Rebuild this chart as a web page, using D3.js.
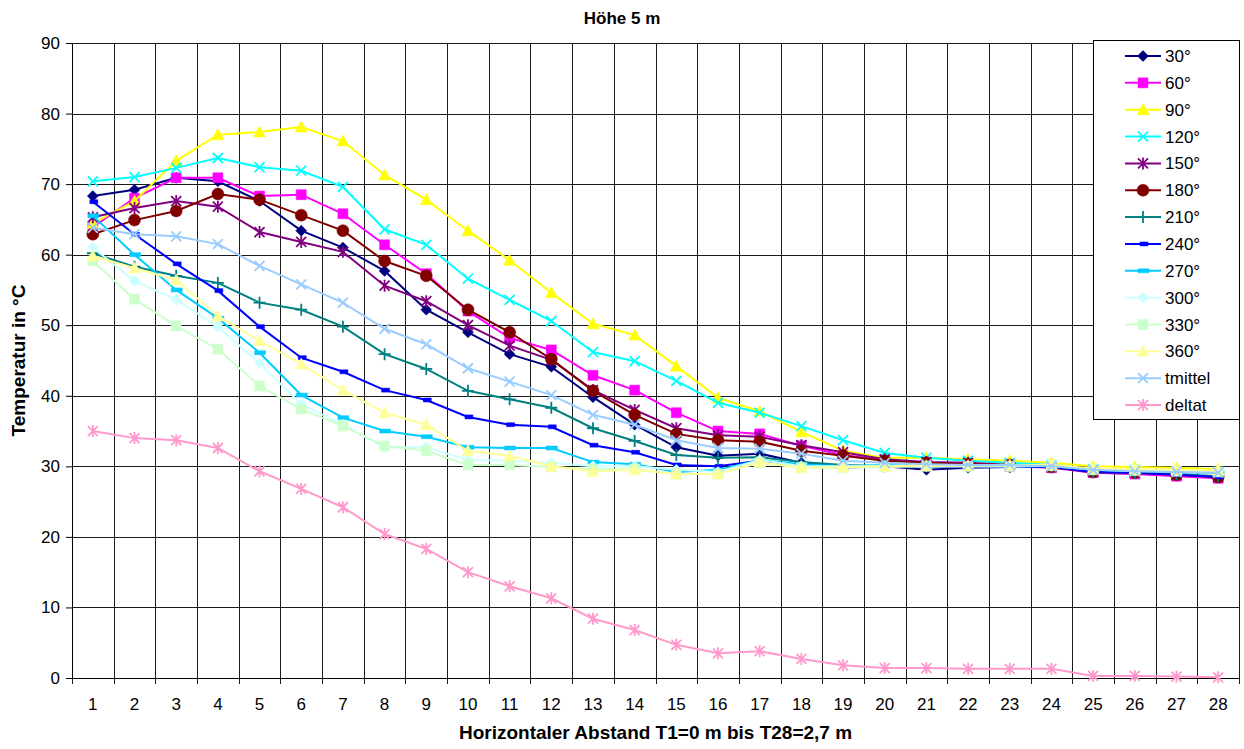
<!DOCTYPE html>
<html>
<head>
<meta charset="utf-8">
<script src="https://cdn.jsdelivr.net/npm/d3@7"></script>
<style>
  body { margin: 0; background: #fff; }
  text { font-family: "Liberation Sans", Arial, sans-serif; }
</style>
</head>
<body>
<div class="chart"></div>
<script>
var positions = d3.range(1, 29);
var yTicks = [0, 10, 20, 30, 40, 50, 60, 70, 80, 90];
var seriesNames = ['30°', '60°', '90°', '120°', '150°', '180°', '210°', '240°', '270°', '300°', '330°', '360°', 'tmittel', 'deltat'];

var s30 = [68.3, 69.2, 70.9, 70.4, 67.6, 63.4, 61.0, 57.7, 52.2, 49.0, 45.9, 44.1, 39.8, 35.9, 32.7, 31.5, 31.8, 30.5, 30.0, 30.0, 29.5, 29.8, 29.9, 30.0, 29.1, 29.0, 28.8, 28.5];
var s60 = [63.9, 68.0, 70.9, 70.9, 68.3, 68.5, 65.8, 61.4, 57.3, 52.0, 48.2, 46.5, 42.9, 40.8, 37.6, 35.0, 34.6, 32.9, 31.6, 30.9, 30.5, 30.2, 30.0, 29.8, 29.1, 28.9, 28.6, 28.3];
var s90 = [64.4, 67.6, 73.3, 77.0, 77.4, 78.1, 76.1, 71.3, 67.8, 63.4, 59.2, 54.6, 50.2, 48.6, 44.2, 39.7, 37.8, 34.9, 32.2, 31.2, 31.2, 31.0, 30.8, 30.5, 30.0, 29.9, 29.8, 29.6];
var s120 = [70.4, 71.0, 72.3, 73.7, 72.4, 71.9, 69.6, 63.6, 61.4, 56.6, 53.6, 50.6, 46.2, 44.9, 42.1, 39.0, 37.6, 35.7, 33.7, 31.9, 31.2, 30.8, 30.5, 30.2, 29.6, 29.5, 29.3, 29.2];
var s150 = [65.3, 66.6, 67.6, 66.8, 63.2, 61.8, 60.4, 55.6, 53.4, 50.0, 47.1, 45.1, 40.8, 38.0, 35.4, 34.4, 34.2, 33.0, 32.0, 31.0, 30.6, 30.5, 30.2, 29.9, 29.2, 29.1, 28.8, 28.5];
var s180 = [62.9, 64.9, 66.2, 68.6, 67.8, 65.6, 63.4, 59.1, 57.0, 52.2, 49.0, 45.2, 40.7, 37.3, 34.6, 33.7, 33.5, 32.2, 31.5, 30.8, 30.5, 30.3, 30.2, 29.9, 29.2, 29.1, 28.8, 28.5];
var s210 = [60.2, 58.3, 57.0, 56.0, 53.2, 52.2, 49.8, 45.9, 43.8, 40.7, 39.5, 38.3, 35.4, 33.6, 31.6, 31.2, 31.3, 30.6, 30.2, 30.0, 30.0, 29.9, 29.9, 29.9, 29.2, 29.1, 28.9, 28.6];
var s240 = [67.5, 62.9, 58.7, 54.9, 49.8, 45.4, 43.4, 40.8, 39.4, 37.0, 35.9, 35.6, 33.0, 32.0, 30.2, 30.0, 30.8, 30.2, 29.8, 30.0, 30.0, 29.9, 29.9, 29.9, 29.2, 29.1, 28.8, 28.5];
var s270 = [65.5, 60.0, 55.0, 51.0, 46.1, 40.1, 36.9, 35.0, 34.2, 32.7, 32.6, 32.6, 30.6, 30.3, 29.2, 29.5, 30.9, 30.3, 30.0, 30.2, 30.0, 30.0, 30.0, 30.0, 29.5, 29.3, 29.2, 29.1];
var s300 = [61.0, 56.3, 53.6, 49.8, 44.6, 38.8, 35.9, 32.7, 32.7, 30.9, 30.8, 30.5, 30.0, 30.0, 29.5, 29.2, 30.9, 30.0, 30.0, 30.0, 30.0, 30.0, 30.0, 30.1, 29.6, 29.5, 29.4, 29.3];
var s330 = [59.1, 53.7, 49.9, 46.6, 41.4, 38.1, 35.7, 32.9, 32.2, 30.2, 30.2, 29.9, 29.6, 29.6, 28.9, 28.9, 30.5, 29.8, 29.8, 29.9, 30.0, 30.0, 30.0, 30.1, 29.5, 29.4, 29.3, 29.2];
var s360 = [59.8, 58.1, 56.4, 51.3, 47.8, 44.5, 40.8, 37.6, 35.9, 32.2, 31.5, 30.0, 29.3, 29.5, 28.9, 28.9, 30.6, 29.8, 29.9, 30.0, 30.1, 30.1, 30.2, 30.2, 29.7, 29.6, 29.5, 29.4];
var sMittel = [63.8, 62.9, 62.6, 61.5, 58.4, 55.8, 53.2, 49.5, 47.3, 43.9, 42.0, 40.1, 37.3, 35.9, 33.7, 32.6, 32.5, 31.8, 30.8, 30.5, 30.3, 30.2, 30.2, 30.0, 29.5, 29.3, 29.2, 29.1];
var sDelta = [35.0, 34.0, 33.7, 32.6, 29.3, 26.8, 24.2, 20.4, 18.3, 15.0, 13.0, 11.3, 8.4, 6.8, 4.7, 3.5, 3.8, 2.7, 1.8, 1.4, 1.4, 1.3, 1.3, 1.3, 0.3, 0.3, 0.2, 0.1];

var allSeries = [s30, s60, s90, s120, s150, s180, s210, s240, s270, s300, s330, s360, sMittel, sDelta];
var colors = ['#000080', '#FF00FF', '#FFFF00', '#00FFFF', '#800080', '#800000', '#008080', '#0000FF', '#00CCFF', '#CCFFFF', '#CCFFCC', '#FFFF99', '#99CCFF', '#FF99CC'];
var markers = ['diamond', 'square', 'triangle', 'x', 'star', 'circle', 'plus', 'dash', 'longdash', 'diamond', 'square', 'triangle', 'x', 'star'];

var W = 1244, H = 749;
var margin = { left: 72, right: 5, top: 43, bottom: 71 };
var plotW = W - margin.left - margin.right;
var plotH = H - margin.top - margin.bottom;

var svg = d3.select('.chart')
  .append('svg')
  .attr('width', W)
  .attr('height', H);

var x = d3.scaleBand().domain(positions).range([0, plotW]).padding(0);
var y = d3.scaleLinear().domain([0, 90]).range([plotH, 0]);
var cx = function(i) { return x(positions[i]) + x.bandwidth() / 2; };

var g = svg.append('g')
  .attr('transform', 'translate(' + margin.left + ',' + margin.top + ')');

// gridlines
g.selectAll('.hgrid')
  .data(yTicks)
  .enter()
  .append('line')
  .attr('x1', 0).attr('x2', plotW)
  .attr('y1', function(d) { return Math.round(y(d)) + 0.5; })
  .attr('y2', function(d) { return Math.round(y(d)) + 0.5; })
  .attr('stroke', '#1a1a1a').attr('stroke-width', 1);

var bounds = positions.map(function(p) { return x(p); }).concat([plotW]);
g.selectAll('.vgrid')
  .data(bounds)
  .enter()
  .append('line')
  .attr('x1', function(d) { return Math.round(d) + 0.5; })
  .attr('x2', function(d) { return Math.round(d) + 0.5; })
  .attr('y1', 0).attr('y2', plotH + 6)
  .attr('stroke', '#1a1a1a').attr('stroke-width', 1);

// axes
var yAxis = g.append('g')
  .call(d3.axisLeft(y).tickValues(yTicks).tickSize(6).tickPadding(6));
yAxis.select('.domain').attr('stroke', '#000');
yAxis.selectAll('text').style('font-size', '17px').attr('fill', '#000');

var xAxis = g.append('g')
  .attr('transform', 'translate(0,' + plotH + ')')
  .call(d3.axisBottom(x).tickSize(0).tickPadding(20));
xAxis.select('.domain').attr('stroke', '#000');
xAxis.selectAll('text').style('font-size', '17px').attr('fill', '#000');

// markers
function markerPath(type) {
  switch (type) {
    case 'diamond': return 'M0,-5.5L5.5,0L0,5.5L-5.5,0Z';
    case 'square': return 'M-5,-5H5V5H-5Z';
    case 'triangle': return 'M0,-6L6,5H-6Z';
    case 'circle': return 'M6,0A6,6 0 1,1 -6,0A6,6 0 1,1 6,0Z';
    case 'dash': return 'M-3,-2H5V2H-3Z';
    case 'longdash': return 'M-5,-2H6V2H-5Z';
    case 'x': return 'M-5,-5L5,5M-5,5L5,-5';
    case 'star': return 'M-5,-5L5,5M-5,5L5,-5M0,-6V6';
    case 'plus': return 'M-6,0H6M0,-6V6';
  }
}
function isStroked(type) { return type === 'x' || type === 'star' || type === 'plus'; }

var line = d3.line()
  .x(function(d, i) { return cx(i); })
  .y(function(d) { return y(d); });

allSeries.forEach(function(vals, si) {
  var sg = g.append('g').attr('class', 'series');
  sg.append('path')
    .datum(vals)
    .attr('d', line)
    .attr('fill', 'none')
    .attr('stroke', colors[si])
    .attr('stroke-width', 2);
  sg.selectAll('.mk')
    .data(vals)
    .enter()
    .append('path')
    .attr('transform', function(d, i) { return 'translate(' + cx(i) + ',' + y(d) + ')'; })
    .attr('d', markerPath(markers[si]))
    .attr('fill', isStroked(markers[si]) ? 'none' : colors[si])
    .attr('stroke', colors[si])
    .attr('stroke-width', isStroked(markers[si]) ? 1.8 : 0.5);
});

// legend
var lg = svg.append('g').attr('transform', 'translate(1093,40)');
lg.append('rect')
  .attr('x', 0.5).attr('y', 0.5)
  .attr('width', 146).attr('height', 379)
  .attr('fill', '#fff').attr('stroke', '#000').attr('stroke-width', 1);

var item = lg.selectAll('.legend')
  .data(seriesNames)
  .enter()
  .append('g')
  .attr('class', 'legend')
  .attr('transform', function(d, i) { return 'translate(0,' + (16 + i * 26.85) + ')'; });

item.append('line')
  .attr('x1', 32).attr('x2', 68)
  .attr('stroke', function(d, i) { return colors[i]; })
  .attr('stroke-width', 2);
item.append('path')
  .attr('transform', 'translate(50,0)')
  .attr('d', function(d, i) { return markerPath(markers[i]); })
  .attr('fill', function(d, i) { return isStroked(markers[i]) ? 'none' : colors[i]; })
  .attr('stroke', function(d, i) { return colors[i]; })
  .attr('stroke-width', function(d, i) { return isStroked(markers[i]) ? 1.8 : 0.5; });
item.append('text')
  .attr('x', 72).attr('y', 6)
  .style('font-size', '17px')
  .text(function(d) { return d; });

// titles
svg.append('text')
  .attr('x', 622).attr('y', 24)
  .attr('text-anchor', 'middle')
  .style('font-size', '17px').style('font-weight', 'bold')
  .text('Höhe 5 m');

svg.append('text')
  .attr('x', margin.left + plotW / 2).attr('y', 739)
  .attr('text-anchor', 'middle')
  .style('font-size', '19px').style('font-weight', 'bold')
  .text('Horizontaler Abstand T1=0 m bis T28=2,7 m');

svg.append('text')
  .attr('transform', 'translate(25,' + (margin.top + plotH / 2) + ') rotate(-90)')
  .attr('text-anchor', 'middle')
  .style('font-size', '19px').style('font-weight', 'bold')
  .text('Temperatur in °C');
</script>
</body>
</html>
